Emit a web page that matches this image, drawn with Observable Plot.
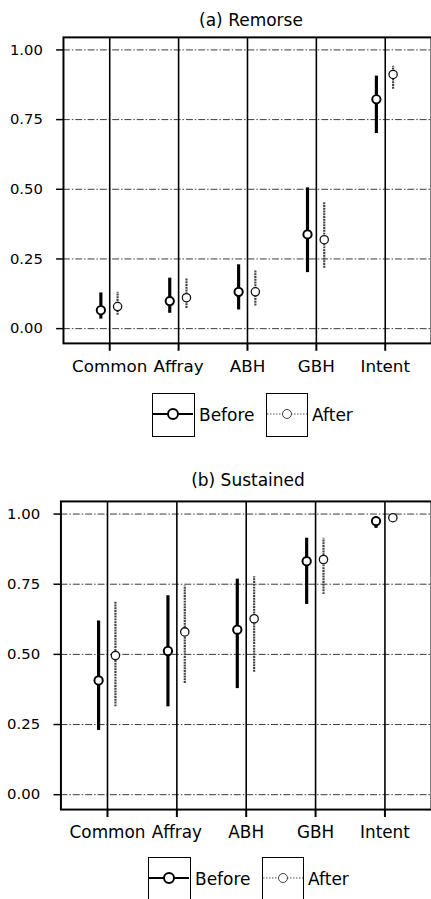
<!DOCTYPE html>
<html>
<head>
<meta charset="utf-8">
<script src="https://cdn.jsdelivr.net/npm/d3@7"></script>
<script src="https://cdn.jsdelivr.net/npm/@observablehq/plot@0.6"></script>
<style>
  html, body { margin: 0; padding: 0; background: #fff; overflow: hidden; }
  body { width: 431px; height: 899px; position: relative; font-family: "DejaVu Sans", sans-serif; color: #000; }
  .abs { position: absolute; }
  .title { font-size: 17px; text-align: center; line-height: 20px; }
  .lgbox { position: absolute; border: 1.5px solid #000; box-sizing: border-box; background: #fff; }
  .lgtext { position: absolute; font-size: 17px; line-height: 20px; }
</style>
</head>
<body>
<script>
const categories = ["Common", "Affray", "ABH", "GBH", "Intent"];
const yTicks = [0, 0.25, 0.5, 0.75, 1];
const groups = ["Before", "After"];

const remorseBefore   = [0.066, 0.099, 0.132, 0.338, 0.823];
const remorseBeforeLo = [0.034, 0.055, 0.067, 0.201, 0.700];
const remorseBeforeHi = [0.128, 0.181, 0.229, 0.505, 0.906];
const remorseAfter    = [0.079, 0.111, 0.132, 0.319, 0.912];
const remorseAfterLo  = [0.048, 0.072, 0.081, 0.217, 0.859];
const remorseAfterHi  = [0.131, 0.181, 0.207, 0.452, 0.941];

const sustainedBefore   = [0.407, 0.512, 0.588, 0.832, 0.975];
const sustainedBeforeLo = [0.229, 0.313, 0.378, 0.678, 0.949];
const sustainedBeforeHi = [0.619, 0.709, 0.768, 0.914, 0.990];
const sustainedAfter    = [0.496, 0.580, 0.627, 0.838, 0.987];
const sustainedAfterLo  = [0.313, 0.396, 0.436, 0.713, 0.980];
const sustainedAfterHi  = [0.686, 0.744, 0.777, 0.914, 0.995];

function rows(est, lo, hi) {
  return categories.map((c, i) => ({cat: c, est: est[i], lo: lo[i], hi: hi[i]}));
}

function panel(before, after, marginLeft, width) {
  return Plot.plot({
    width, height: 360,
    marginLeft, marginRight: 0, marginTop: 7, marginBottom: 42,
    style: {fontFamily: "DejaVu Sans, sans-serif", background: "transparent", color: "#000", overflow: "visible"},
    x: {type: "point", domain: categories, padding: 0.634, axis: null},
    y: {domain: [-0.053, 1.045], axis: null},
    marks: [
      Plot.ruleY(yTicks, {stroke: "#222", strokeWidth: 0.9, strokeDasharray: "7,2,1.5,2"}),
      Plot.ruleX(categories, {stroke: "#000", strokeWidth: 1.6}),
      Plot.ruleX(before, {x: "cat", y1: "lo", y2: "hi", dx: -9, stroke: "#000", strokeWidth: 3.2}),
      Plot.ruleX(after, {x: "cat", y1: "lo", y2: "hi", dx: 8, stroke: "#444", strokeWidth: 2.2, strokeDasharray: "2,0.8"}),
      Plot.dot(before, {x: "cat", y: "est", dx: -9, r: 4.2, fill: "#fff", stroke: "#000", strokeWidth: 2}),
      Plot.dot(after, {x: "cat", y: "est", dx: 8, r: 4.2, fill: "#fff", stroke: "#111", strokeWidth: 1.3}),
      Plot.frame({stroke: "#000", strokeWidth: 2}),
      Plot.axisX({tickSize: 8, tickPadding: 9, fontSize: 17, strokeWidth: 2, label: null}),
      Plot.axisY({ticks: yTicks, tickFormat: d3.format(".2f"), tickSize: 7, tickPadding: 14, fontSize: 15, strokeWidth: 1.5, label: null})
    ]
  });
}

function addDiv(cls, text, css) {
  const d = document.createElement("div");
  d.className = cls;
  if (text) d.textContent = text;
  Object.assign(d.style, css);
  document.body.appendChild(d);
  return d;
}

function swatch(box, solid) {
  const ns = "http://www.w3.org/2000/svg";
  const svg = document.createElementNS(ns, "svg");
  svg.setAttribute("width", "40");
  svg.setAttribute("height", "40");
  svg.style.position = "absolute";
  svg.style.left = "0px";
  svg.style.top = "0px";
  const line = document.createElementNS(ns, "line");
  line.setAttribute("x1", "0"); line.setAttribute("x2", "40");
  line.setAttribute("y1", "20"); line.setAttribute("y2", "20");
  line.setAttribute("stroke", solid ? "#000" : "#555");
  line.setAttribute("stroke-width", solid ? "2" : "1.2");
  if (!solid) line.setAttribute("stroke-dasharray", "1.5,1.5");
  const c = document.createElementNS(ns, "circle");
  c.setAttribute("cx", "20"); c.setAttribute("cy", "20"); c.setAttribute("r", solid ? "5" : "4.5");
  c.setAttribute("fill", "#fff");
  c.setAttribute("stroke", solid ? "#000" : "#444");
  c.setAttribute("stroke-width", solid ? "2" : "1");
  svg.appendChild(line); svg.appendChild(c);
  box.appendChild(svg);
}

function legend(x0, top, h) {
  const b1 = addDiv("lgbox", "", {left: x0 + "px", top: top + "px", width: "43px", height: h + "px"});
  swatch(b1, true);
  addDiv("lgtext", groups[0], {left: (x0 + 47) + "px", top: (top + 12) + "px"});
  const b2 = addDiv("lgbox", "", {left: (x0 + 114) + "px", top: top + "px", width: "42px", height: h + "px"});
  swatch(b2, false);
  addDiv("lgtext", groups[1], {left: (x0 + 160) + "px", top: (top + 12) + "px"});
}

// Panel (a)
addDiv("abs title", "(a) Remorse", {left: "64px", width: "374px", top: "10px"});
const pa = panel(rows(remorseBefore, remorseBeforeLo, remorseBeforeHi),
                 rows(remorseAfter, remorseAfterLo, remorseAfterHi), 64, 438);
Object.assign(pa.style, {position: "absolute", left: "0px", top: "30px"});
document.body.appendChild(pa);
legend(152, 393, 44);

// Panel (b)
addDiv("abs title", "(b) Sustained", {left: "61px", width: "374px", top: "470px"});
const pb = panel(rows(sustainedBefore, sustainedBeforeLo, sustainedBeforeHi),
                 rows(sustainedAfter, sustainedAfterLo, sustainedAfterHi), 61, 435);
Object.assign(pb.style, {position: "absolute", left: "0px", top: "494px"});
document.body.appendChild(pb);
legend(148, 857, 50);
</script>
</body>
</html>
